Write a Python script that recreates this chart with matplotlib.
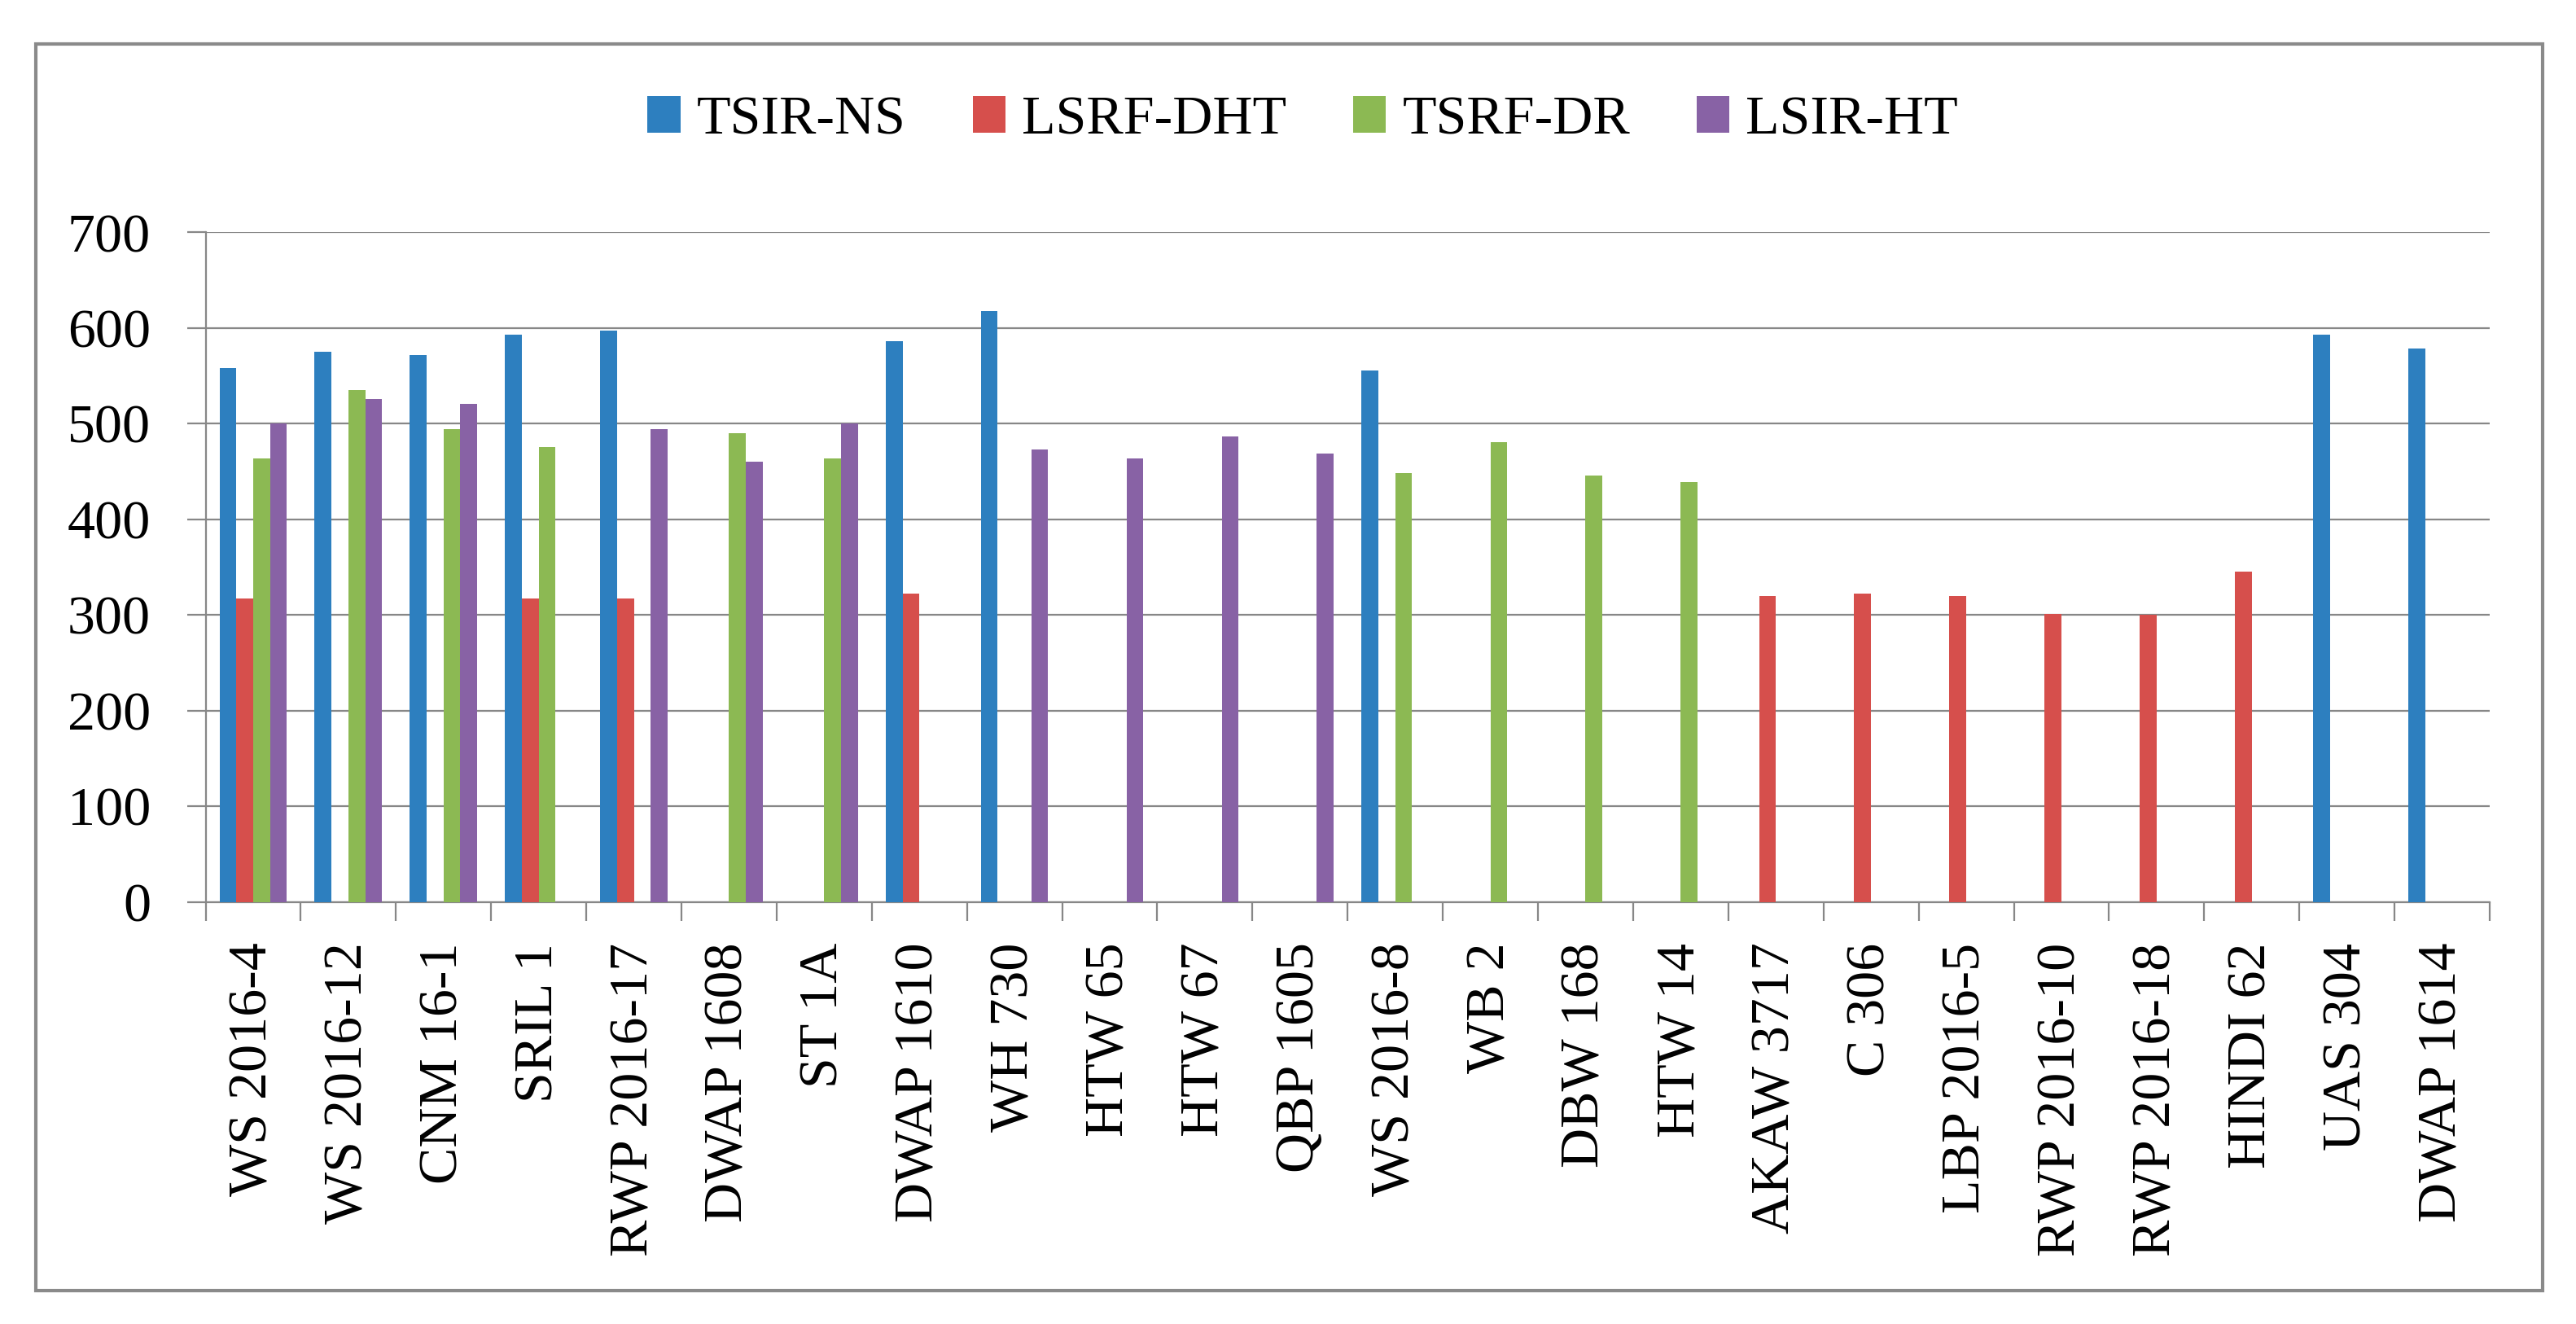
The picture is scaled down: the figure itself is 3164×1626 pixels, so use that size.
import matplotlib
matplotlib.use("Agg")
import matplotlib.pyplot as plt
import numpy as np
from matplotlib.patches import Rectangle

categories = ["WS 2016-4", "WS 2016-12", "CNM 16-1", "SRIL 1", "RWP 2016-17",
              "DWAP 1608", "ST 1A", "DWAP 1610", "WH 730", "HTW 65", "HTW 67",
              "QBP 1605", "WS 2016-8", "WB 2", "DBW 168", "HTW 14", "AKAW 3717",
              "C 306", "LBP 2016-5", "RWP 2016-10", "RWP 2016-18", "HINDI 62",
              "UAS 304", "DWAP 1614"]

tsir_ns = [558, 575, 572, 593, 597, 0, 0, 586, 618, 0, 0, 0, 556, 0, 0, 0,
           0, 0, 0, 0, 0, 0, 593, 579]
lsrf_dht = [317, 0, 0, 317, 317, 0, 0, 322, 0, 0, 0, 0, 0, 0, 0, 0,
            320, 322, 320, 301, 300, 345, 0, 0]
tsrf_dr = [464, 535, 494, 476, 0, 490, 464, 0, 0, 0, 0, 0, 448, 481, 446, 439,
           0, 0, 0, 0, 0, 0, 0, 0]
lsir_ht = [500, 526, 521, 0, 494, 460, 500, 0, 473, 464, 487, 469, 0, 0, 0, 0,
           0, 0, 0, 0, 0, 0, 0, 0]

series_names = ["TSIR-NS", "LSRF-DHT", "TSRF-DR", "LSIR-HT"]
series_values = [tsir_ns, lsrf_dht, tsrf_dr, lsir_ht]
colors = ["#2D7FBF", "#D64F4C", "#8CB953", "#8862A5"]
yticks = [0, 100, 200, 300, 400, 500, 600, 700]

plt.rcParams['font.family'] = ['Liberation Serif', 'DejaVu Serif']

W, H, DPI = 3164, 1626, 200
fig = plt.figure(figsize=(W / DPI, H / DPI), dpi=DPI)
fig.patch.set_facecolor("white")

ax_left, ax_right = 252.5, 3058
ax_top, ax_bottom = 285.5, 1107.5
ax = fig.add_axes([ax_left / W, 1 - ax_bottom / H,
                   (ax_right - ax_left) / W, (ax_bottom - ax_top) / H])

n = len(categories)
x = np.arange(n)
bw = 0.177
for i, (name, vals, c) in enumerate(zip(series_names, series_values, colors)):
    offs = (i - 1.5) * bw
    ax.bar(x + offs, vals, width=bw, color=c, label=name, zorder=3,
           linewidth=0)

grid_c = "#878787"
ax.set_xlim(-0.5, n - 0.5)
ax.set_ylim(0, 700)
ax.set_yticks(yticks)
ax.set_yticklabels([str(v) for v in yticks])
ax.yaxis.grid(True, color=grid_c, linewidth=0.8, zorder=0)
ax.set_axisbelow(True)

ax.set_xticks(np.arange(-0.5, n, 1.0), minor=False)
ax.set_xticklabels([])
ax.set_xticks(x, minor=True)
ax.set_xticklabels(categories, minor=True, rotation=90, ha="center", va="top",
                   fontsize=24.5)
ax.tick_params(axis="x", which="major", length=8.3, width=0.8, color=grid_c,
               direction="out")
ax.tick_params(axis="x", which="minor", length=0, pad=18)
ax.tick_params(axis="y", length=8.3, width=0.8, color=grid_c, pad=16,
               labelsize=24.5)

for s in ["top", "right"]:
    ax.spines[s].set_visible(False)
for s in ["left", "bottom"]:
    ax.spines[s].set_color(grid_c)
    ax.spines[s].set_linewidth(0.8)

leg = fig.legend(loc="center", bbox_to_anchor=(0.5058, 1 - 148 / H), ncol=4,
                 frameon=False, fontsize=24.5, handlelength=0.59,
                 handleheight=0.63, handletextpad=0.3, columnspacing=1.2)

bx0, by0, bx1, by1 = 43.6, 54, 3123, 1585
fig.patches.append(Rectangle((bx0 / W, 1 - by1 / H), (bx1 - bx0) / W,
                             (by1 - by0) / H, transform=fig.transFigure,
                             fill=False, edgecolor="#8A8A8A", linewidth=1.5))

fig.savefig("out.png", dpi=DPI, facecolor="white")
